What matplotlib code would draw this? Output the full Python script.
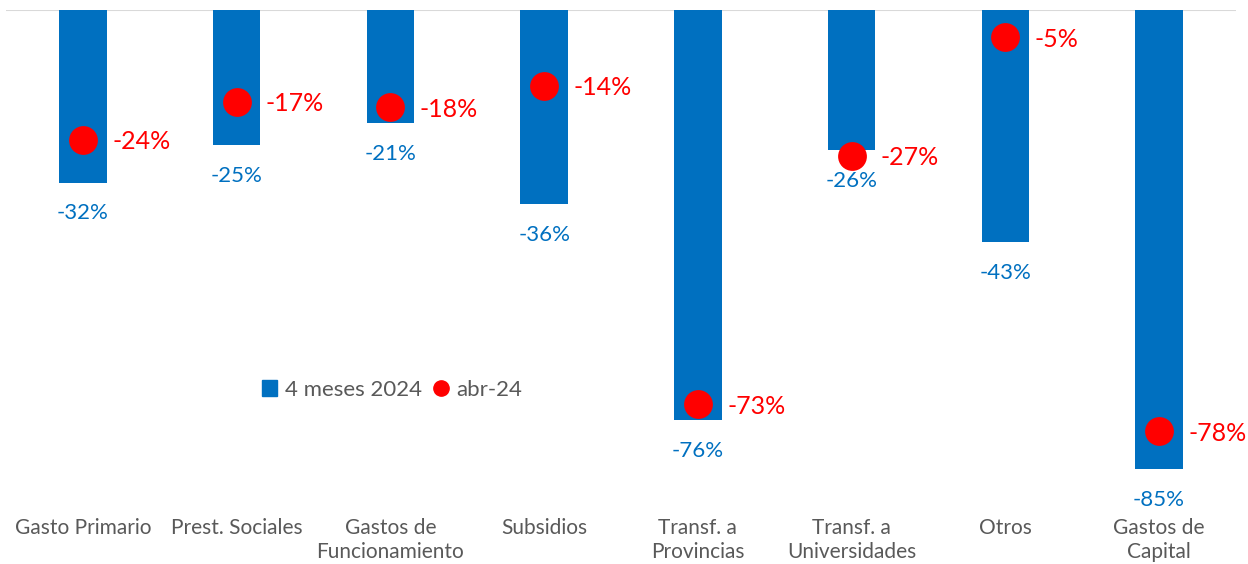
import matplotlib
matplotlib.use("Agg")
import matplotlib.pyplot as plt
from matplotlib.lines import Line2D
from matplotlib.patches import Patch

plt.rcParams['font.family'] = ['Lato', 'DejaVu Sans']

# categorias y variaciones reales (%)
categorias = ["Gasto Primario", "Prest. Sociales", "Gastos de\nFuncionamiento", "Subsidios",
              "Transf. a\nProvincias", "Transf. a\nUniversidades", "Otros", "Gastos de\nCapital"]
acum_2024 = [-32, -25, -21, -36, -76, -26, -43, -85]
abr_24 = [-24, -17, -18, -14, -73, -27, -5, -78]

AZUL = "#0070C0"
ROJO = "#FF0000"
GRIS = "#595959"

fig = plt.figure(figsize=(12.48, 5.64), dpi=100)
ax = fig.add_axes([6 / 1248, 0, 1230 / 1248, 554 / 564])

x = list(range(len(categorias)))
ax.bar(x, acum_2024, width=0.31, color=AZUL, zorder=2)
ax.scatter(x, abr_24, s=430, color=ROJO, zorder=3, linewidths=0)
ax.axhline(0, color="#D9D9D9", lw=1.5, zorder=1)

for xi, v in zip(x, acum_2024):
    ax.annotate(f"{v}%", (xi, v), xytext=(0, -22), textcoords="offset points",
                ha="center", va="center", color=AZUL, fontsize=16)
for xi, v in zip(x, abr_24):
    ax.annotate(f"{v}%", (xi, v), xytext=(21, -1.5), textcoords="offset points",
                ha="left", va="center", color=ROJO, fontsize=18)

for xi, c in zip(x, categorias):
    ax.text(xi, -94.0, c, ha="center", va="top", color=GRIS, fontsize=15,
            linespacing=1.25)

ax.set_xlim(-0.5, 7.5)
ax.set_ylim(-554 / 5.4, 0)
ax.axis("off")

handles = [Patch(color=AZUL, label="4 meses 2024"),
           Line2D([], [], marker="o", ls="", color=ROJO, markersize=11, label="abr-24")]
fig.legend(handles=handles, loc="center", bbox_to_anchor=(392 / 1248, 1 - 390 / 564),
           ncol=2, frameon=False, fontsize=16, handlelength=0.7, handletextpad=0.35,
           columnspacing=0.5, labelcolor=GRIS)

fig.savefig("out.png", dpi=100)
